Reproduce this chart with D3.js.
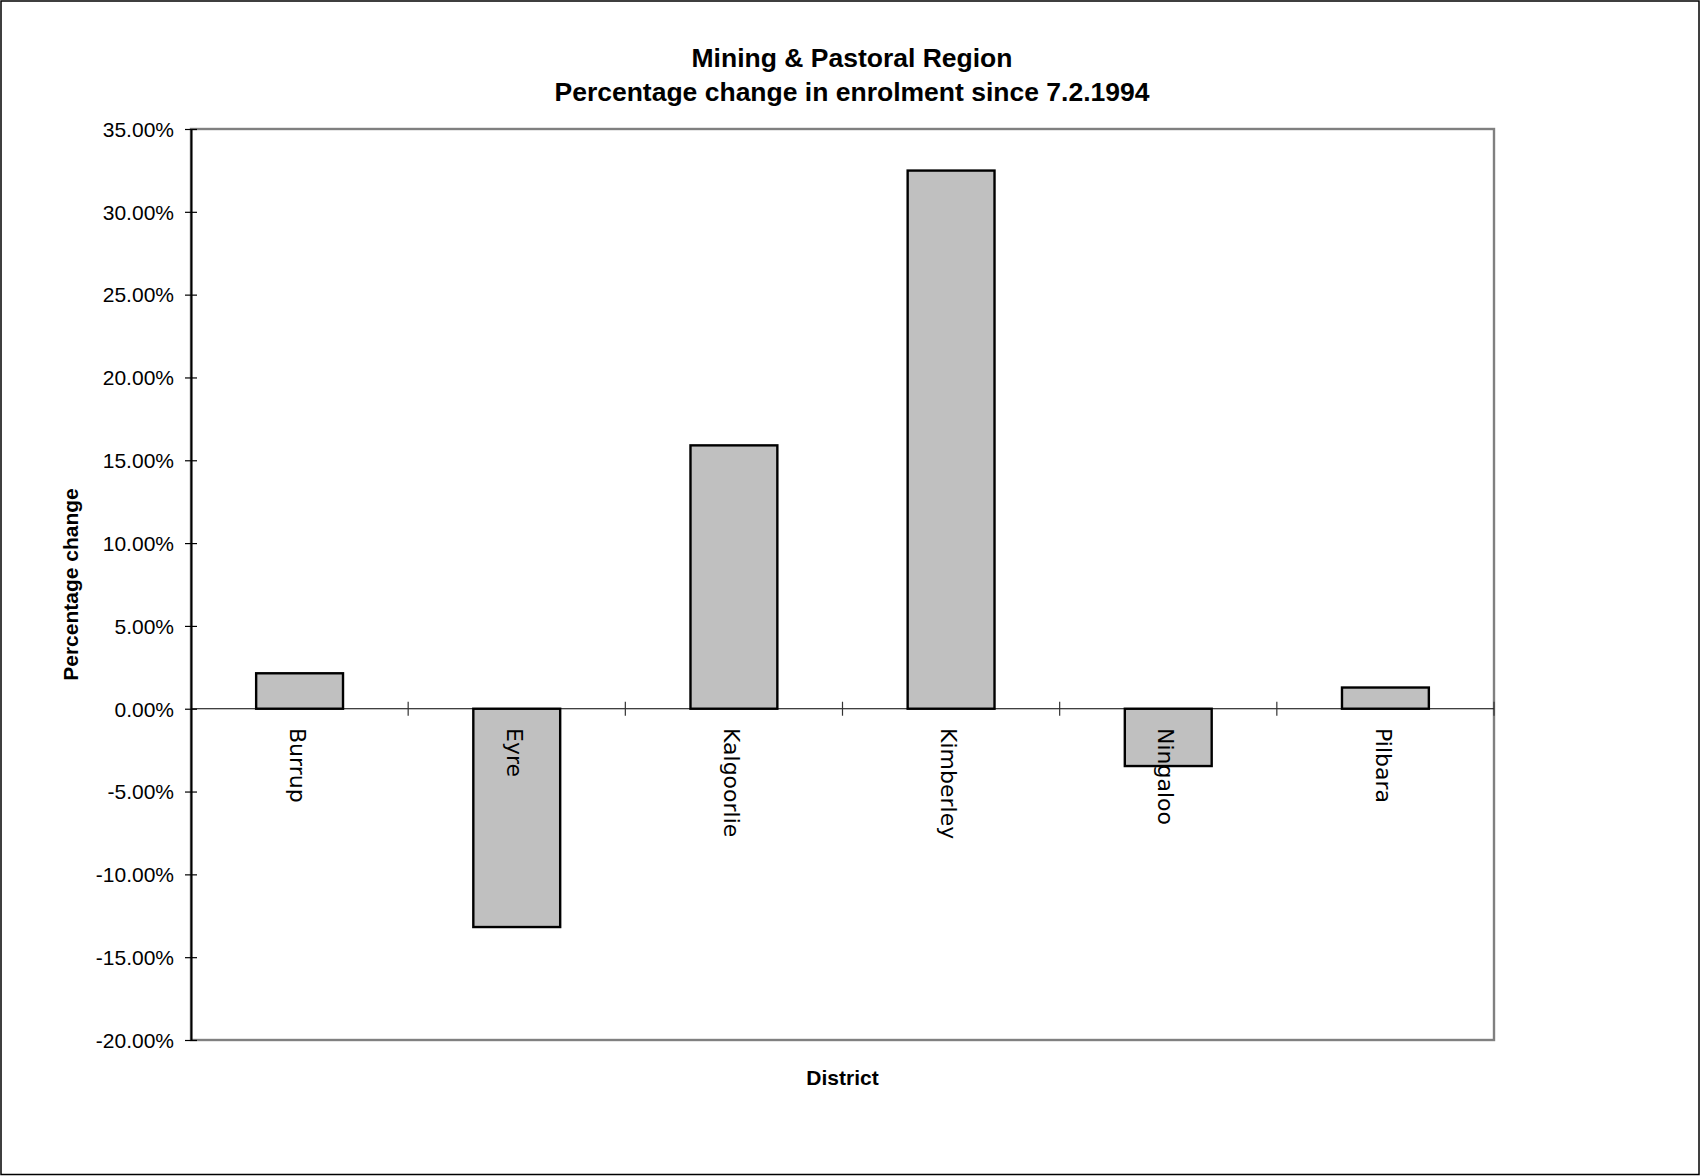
<!DOCTYPE html>
<html>
<head>
<meta charset="utf-8">
<script src="https://cdn.jsdelivr.net/npm/d3@7"></script>
<style>
  html, body { margin: 0; padding: 0; background: #fff; }
  svg { display: block; }
</style>
</head>
<body>
<svg id="chart" width="1701" height="1176"></svg>
<script>
const categories = ["Burrup", "Eyre", "Kalgoorlie", "Kimberley", "Ningaloo", "Pilbara"];
const values = [2.14, -13.18, 15.90, 32.49, -3.46, 1.28];
const yTicks = [35, 30, 25, 20, 15, 10, 5, 0, -5, -10, -15, -20];
const titleLines = ["Mining & Pastoral Region", "Percentage change in enrolment since 7.2.1994"];
const yAxisTitle = "Percentage change";
const xAxisTitle = "District";

const svg = d3.select("#chart");
const W = 1701, H = 1176;
const plot = { left: 191, right: 1494, top: 129, bottom: 1040 };

// outer border
svg.append("rect").attr("x", 1).attr("y", 1).attr("width", W - 3).attr("height", H - 2.5)
  .attr("fill", "#fff").attr("stroke", "#000").attr("stroke-width", 1.5);

const y = d3.scaleLinear().domain([-20, 35]).range([plot.bottom, plot.top]);
const x = d3.scaleBand().domain(categories).range([plot.left, plot.right])
  .paddingInner(0.6).paddingOuter(0.3);
const step = x.step();

// plot area frame (grey)
svg.append("rect").attr("x", plot.left).attr("y", plot.top)
  .attr("width", plot.right - plot.left).attr("height", plot.bottom - plot.top)
  .attr("fill", "none").attr("stroke", "#808080").attr("stroke-width", 2.4);

// bars
const data = categories.map((c, i) => ({ c, v: values[i] }));
svg.append("g").selectAll("rect").data(data).join("rect")
  .attr("x", d => x(d.c))
  .attr("width", x.bandwidth())
  .attr("y", d => y(Math.max(0, d.v)))
  .attr("height", d => Math.abs(y(d.v) - y(0)))
  .attr("fill", "#c0c0c0")
  .attr("stroke", "#000")
  .attr("stroke-width", 2.4);

// y axis
const yAxis = d3.axisLeft(y).tickValues(yTicks).tickSize(0)
  .tickFormat(d => d.toFixed(2) + "%");
const gy = svg.append("g").attr("transform", `translate(${plot.left},0)`).call(yAxis);
gy.select(".domain").attr("stroke", "#000").attr("stroke-width", 2);
gy.selectAll(".tick line").attr("x1", -6).attr("x2", 6).attr("stroke", "#000").attr("stroke-width", 1.2);
gy.selectAll(".tick text").attr("x", -17).attr("dy", "0.35em")
  .attr("font-family", "'Liberation Sans', Arial, sans-serif").attr("font-size", 21).attr("fill", "#000");

// zero line (category axis)
svg.append("line").attr("x1", plot.left).attr("x2", plot.right)
  .attr("y1", y(0)).attr("y2", y(0)).attr("stroke", "#000").attr("stroke-width", 1.2);

// category tick marks at boundaries
const bounds = d3.range(1, categories.length + 1).map(k => plot.left + k * step);
svg.append("g").selectAll("line").data(bounds).join("line")
  .attr("x1", d => d).attr("x2", d => d)
  .attr("y1", y(0) - 7).attr("y2", y(0) + 7)
  .attr("stroke", "#333").attr("stroke-width", 1.2);

// category labels (rotated)
svg.append("g").selectAll("text").data(categories).join("text")
  .attr("transform", d => `translate(${x(d) + x.bandwidth() / 2},728) rotate(90)`)
  .attr("dy", "0.45em")
  .attr("font-family", "'DejaVu Sans', Verdana, sans-serif")
  .attr("font-size", 22)
  .attr("fill", "#000")
  .text(d => d);

// title
svg.append("g").selectAll("text").data(titleLines).join("text")
  .attr("x", 852).attr("y", (d, i) => 67 + i * 34)
  .attr("text-anchor", "middle")
  .attr("font-family", "'Liberation Sans', Arial, sans-serif")
  .attr("font-weight", "bold").attr("font-size", 26.5).attr("fill", "#000")
  .text(d => d);

// y axis title
svg.append("text")
  .attr("transform", `translate(78,${(plot.top + plot.bottom) / 2}) rotate(-90)`)
  .attr("text-anchor", "middle")
  .attr("font-family", "'Liberation Sans', Arial, sans-serif")
  .attr("font-weight", "bold").attr("font-size", 21).attr("fill", "#000")
  .text(yAxisTitle);

// x axis title
svg.append("text")
  .attr("x", (plot.left + plot.right) / 2).attr("y", 1085)
  .attr("text-anchor", "middle")
  .attr("font-family", "'Liberation Sans', Arial, sans-serif")
  .attr("font-weight", "bold").attr("font-size", 21).attr("fill", "#000")
  .text(xAxisTitle);
</script>
</body>
</html>
